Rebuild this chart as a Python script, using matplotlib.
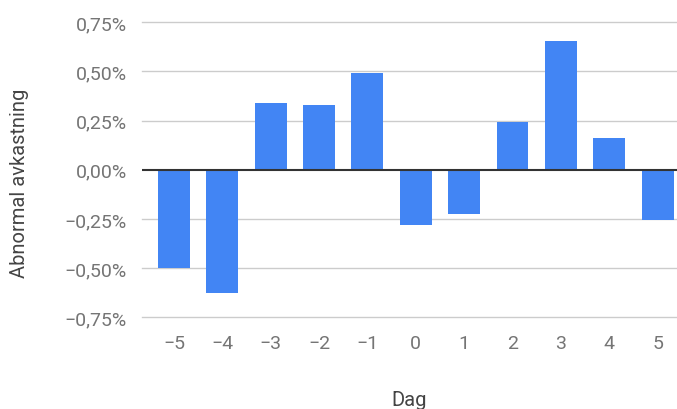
import numpy as np
import matplotlib
matplotlib.use("Agg")
import matplotlib.pyplot as plt

plt.rcParams['font.family'] = ['Roboto', 'DejaVu Sans']

# Data
days = [-5, -4, -3, -2, -1, 0, 1, 2, 3, 4, 5]
abnormal = [-0.50, -0.627, 0.342, 0.332, 0.494, -0.280, -0.226, 0.243, 0.653, 0.162, -0.254]
yticks = [-0.75, -0.50, -0.25, 0.0, 0.25, 0.50, 0.75]

def pct(v):
    s = "{:.2f}%".format(abs(v)).replace(".", ",")
    return ("\u2212" + s) if v < 0 else s

def num(v):
    return ("\u2212" + str(abs(v))) if v < 0 else str(v)

fig = plt.figure(figsize=(6.77, 4.10), dpi=100)
ax = fig.add_axes([142/677, (410-318.3)/410, 535/677, 295/410])

ax.bar(days, abnormal, width=0.66, color='#4285F4', zorder=3)

# Grid and zero line
ax.set_ylim(-0.75, 0.75)
ax.set_xlim(-5.66, 5.40)
ax.set_yticks(yticks)
ax.set_yticklabels([pct(v) for v in yticks])
ax.set_xticks(days)
ax.set_xticklabels([num(d) for d in days])
for v in yticks:
    if v != 0:
        ax.axhline(v, color='#cccccc', linewidth=1.0, zorder=0, clip_on=False)
ax.axhline(0, color='#333333', linewidth=1.5, zorder=4)

for s in ax.spines.values():
    s.set_visible(False)
ax.tick_params(axis='both', length=0, labelsize=14, colors='#757575')
ax.tick_params(axis='y', pad=11)
ax.tick_params(axis='x', pad=12)

fig.text(20/677, (410-183)/410, "Abnormal avkastning", rotation=90,
         ha='center', va='center', fontsize=14.5, color='#444444')
fig.text(409/677, (410-401)/410, "Dag", ha='center', va='center',
         fontsize=14.5, color='#444444')

plt.savefig('out.png', dpi=100)
